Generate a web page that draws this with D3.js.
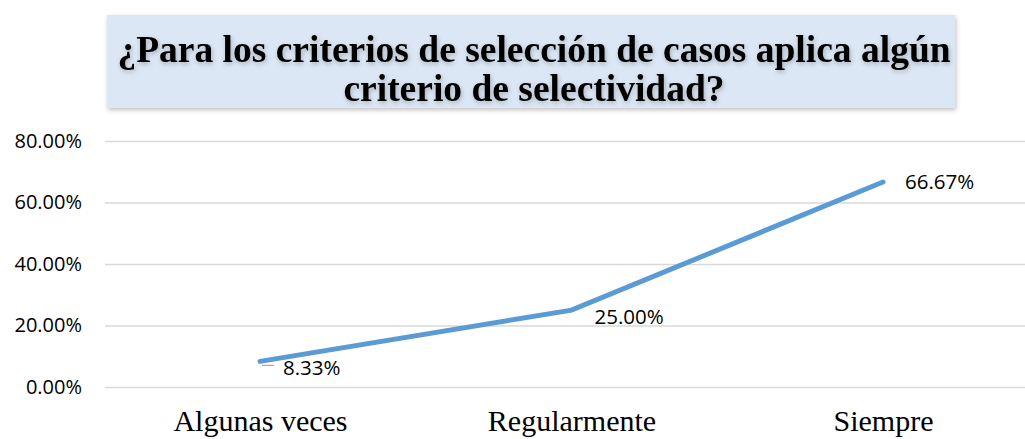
<!DOCTYPE html>
<html>
<head>
<meta charset="utf-8">
<script src="https://cdn.jsdelivr.net/npm/d3@7"></script>
<style>
  body { margin: 0; background: #fff; }
  svg { display: block; }
</style>
</head>
<body>
<svg></svg>
<script>
const categories = ["Algunas veces", "Regularmente", "Siempre"];
const values = [0.0833, 0.25, 0.6667];
const yTicks = [0, 0.2, 0.4, 0.6, 0.8];
const titleLines = ["¿Para los criterios de selección de casos aplica algún", "criterio de selectividad?"];

const width = 1025;
const height = 439;
const marginLeft = 105;
const marginRight = 0;
const marginTop = 141;
const marginBottom = 52;

const svg = d3.select("svg")
    .attr("width", width)
    .attr("height", height);

// title box
const defs = svg.append("defs");
const f = defs.append("filter").attr("id", "shadow")
    .attr("x", "-5%").attr("y", "-20%").attr("width", "110%").attr("height", "140%");
f.append("feGaussianBlur").attr("in", "SourceAlpha").attr("stdDeviation", 2.5);
f.append("feOffset").attr("dx", 1).attr("dy", 2).attr("result", "b");
f.append("feComponentTransfer").append("feFuncA").attr("type", "linear").attr("slope", 0.25);
const m = f.append("feMerge");
m.append("feMergeNode");
m.append("feMergeNode").attr("in", "SourceGraphic");

svg.append("rect")
    .attr("x", 107).attr("y", 15)
    .attr("width", 848).attr("height", 93)
    .attr("fill", "#dce7f5")
    .attr("filter", "url(#shadow)");

svg.append("g")
    .selectAll("text")
    .data(titleLines)
    .join("text")
    .attr("x", 534)
    .attr("y", (d, i) => 62 + i * 39)
    .attr("text-anchor", "middle")
    .attr("font-family", "'Liberation Serif', 'Times New Roman', serif")
    .attr("font-weight", "bold")
    .attr("font-size", 37.5)
    .attr("fill", "#000")
    .attr("filter", "url(#shadow)")
    .text(d => d);

const x = d3.scalePoint()
    .domain(categories)
    .range([260, 883]);

const y = d3.scaleLinear()
    .domain([0, 0.8])
    .range([height - marginBottom, marginTop]);

// gridlines + y labels
svg.append("g")
    .attr("transform", `translate(${marginLeft},0)`)
    .call(d3.axisLeft(y).tickValues(yTicks).tickFormat(d3.format(".2%")).tickSize(0).tickPadding(23))
    .call(g => g.select(".domain").remove())
    .call(g => g.selectAll(".tick line").clone()
        .attr("x2", width - marginLeft - marginRight)
        .attr("stroke", "#d9d9d9")
        .attr("stroke-width", 1.5))
    .call(g => g.selectAll(".tick text")
        .attr("font-family", "'Open Sans', sans-serif")
        .attr("font-size", 20)
        .attr("fill", "#000"));

// x labels
svg.append("g")
    .attr("transform", `translate(0,${height - marginBottom})`)
    .call(d3.axisBottom(x).tickSize(0).tickPadding(23))
    .call(g => g.select(".domain").remove())
    .call(g => g.selectAll(".tick text")
        .attr("font-family", "'Liberation Serif', 'Times New Roman', serif")
        .attr("font-size", 30)
        .attr("fill", "#000"));

const data = categories.map((c, i) => ({ cat: c, value: values[i] }));

const line = d3.line()
    .x(d => x(d.cat))
    .y(d => y(d.value));

svg.append("path")
    .attr("fill", "none")
    .attr("stroke", "#5b9bd5")
    .attr("stroke-width", 5)
    .attr("stroke-linecap", "round")
    .attr("d", line(data));

// leader line for first label
svg.append("line")
    .attr("x1", x(categories[0]) + 2).attr("y1", y(values[0]) + 4)
    .attr("x2", x(categories[0]) + 14).attr("y2", y(values[0]) + 4)
    .attr("stroke", "#a6a6a6")
    .attr("stroke-width", 1.2);

const labelOffsets = [[23, 14], [23, 14], [22, 7]];
svg.append("g")
    .selectAll("text")
    .data(data)
    .join("text")
    .attr("x", (d, i) => x(d.cat) + labelOffsets[i][0])
    .attr("y", (d, i) => y(d.value) + labelOffsets[i][1])
    .attr("font-family", "'Open Sans', sans-serif")
    .attr("font-size", 20.5)
    .attr("fill", "#000")
    .text(d => d3.format(".2%")(d.value));
</script>
</body>
</html>
